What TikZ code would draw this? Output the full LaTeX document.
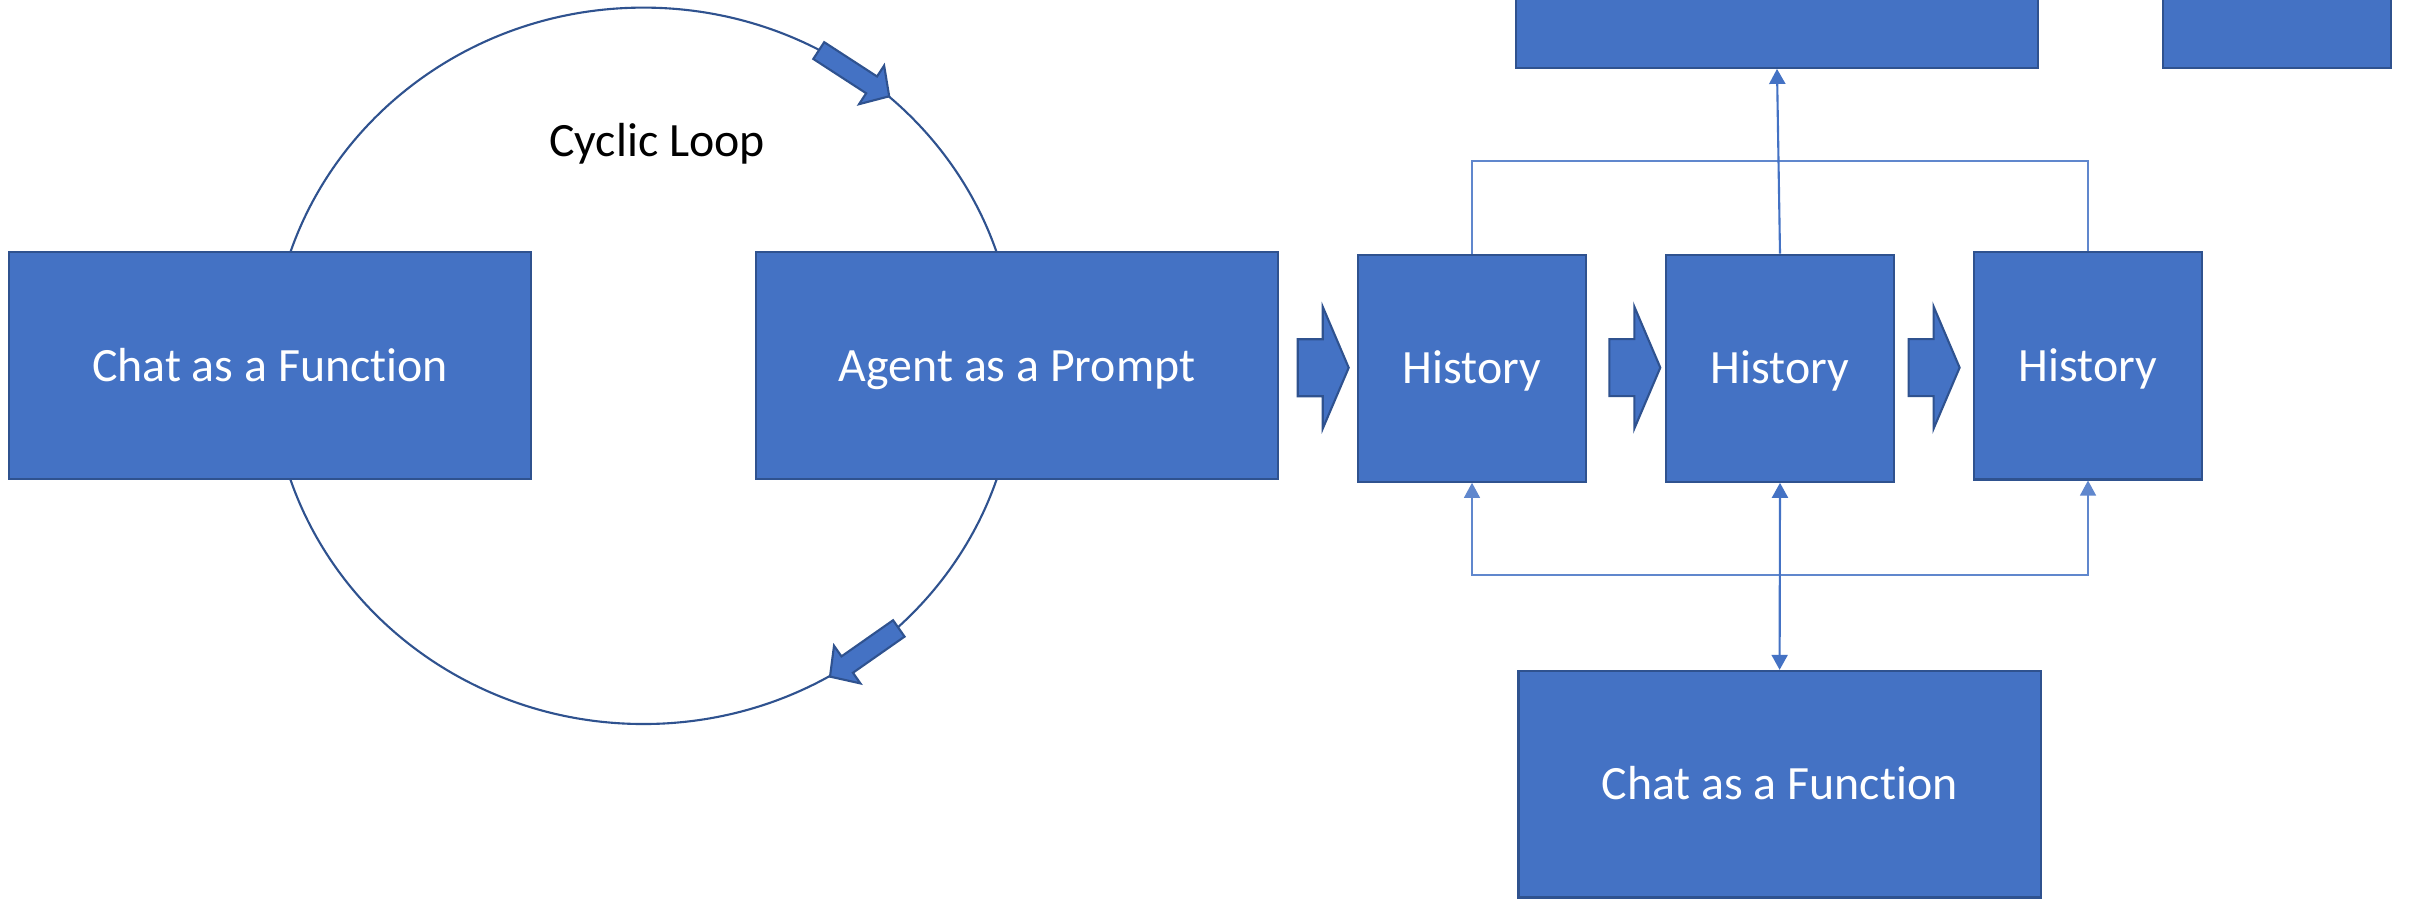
\documentclass[tikz,border=0pt]{standalone}
\usepackage{fontspec}
\setmainfont{Carlito}[Ligatures={NoCommon,NoContextual}]
\usetikzlibrary{arrows.meta}
\definecolor{obox}{HTML}{4472C4}
\definecolor{oedge}{HTML}{2F528F}
\tikzset{
  rarrow/.pic={\path[blockarr] (0,-28.5) -- (25,-28.5) -- (25,-61) -- (51,0) -- (25,61) -- (25,28.5) -- (0,28.5) -- cycle;},
  carrow/.pic={\path[blockarr] (-84,-10) -- (-21,-10) -- (-21,-23) -- (0,0) -- (-21,23) -- (-21,10) -- (-84,10) -- cycle;},
}
\begin{document}
\begin{tikzpicture}[x=0.01cm,y=-0.01cm,
  box/.style={draw=oedge, fill=obox, line width=0.6pt, text=white,
    font=\fontsize{13.6}{16}\selectfont, text height=0.31cm, text depth=0pt, inner sep=0pt},
  wide/.style={box, minimum width=5.22cm, minimum height=2.265cm},
  sq/.style={box, minimum width=2.275cm, minimum height=2.27cm},
  blockarr/.style={draw=oedge, fill=obox, line width=0.6pt},
  mainc/.style={draw=obox, line width=0.6pt},
  thinc/.style={draw=obox!85, line width=0.35pt},
  tipend/.style={-{Triangle[width=0.16cm,length=0.15cm]}},
  tipboth/.style={{Triangle[width=0.16cm,length=0.15cm]}-{Triangle[width=0.16cm,length=0.15cm]}}
]
\clip (0,0) rectangle (2412,899);
\fill[white] (0,0) rectangle (2412,899);

% cyclic loop
\draw[draw=oedge, line width=0.6pt] (643.5,365.8) ellipse [x radius=3.72cm, y radius=3.58cm];
\pic[rotate=-33] at (889.2,96.3) {carrow};
\pic[rotate=-145] at (830,676.6) {carrow};
\node[font=\fontsize{13.6}{16}\selectfont, anchor=base] (loop) at (657,156) {Cyclic Loop};

% boxes
\node[wide] (chat1) at (270,365.5) {Chat as a Funct\kern0pt ion};
\node[wide] (agent) at (1017,365.5) {Agent as a Prompt};
\node[sq] (h1) at (1472,368.2) {History};
\node[sq] (h2) at (1780,368.2) {History};
\node[sq] (h3) at (2088,365.9) {History};
\node[wide] (top1) at (1777,-45.5) {};
\node[sq, minimum height=2.265cm] (top2) at (2277,-45.5) {};
\node[wide] (chat2) at (1779.6,784.2) {Chat as a Funct\kern0pt ion};

% block arrows
\pic at (1297.7,367.7) {rarrow};
\pic at (1609.3,367.6) {rarrow};
\pic at (1908.6,367.6) {rarrow};

% connectors to the top box
\coordinate (tj) at (1777,161);
\draw[thinc] (h1.north) |- (tj);
\draw[thinc] (h3.north) |- (tj);
\draw[mainc, tipend] (h2.north) -- (top1.south);

% connectors from the bottom box
\coordinate (bj) at (1780,575);
\draw[thinc, tipend] (bj) -| (h1.south);
\draw[thinc, tipend] (bj) -| (h3.south);
\draw[mainc, tipboth] (h2.south) -- (chat2.north);
\end{tikzpicture}
\end{document}
